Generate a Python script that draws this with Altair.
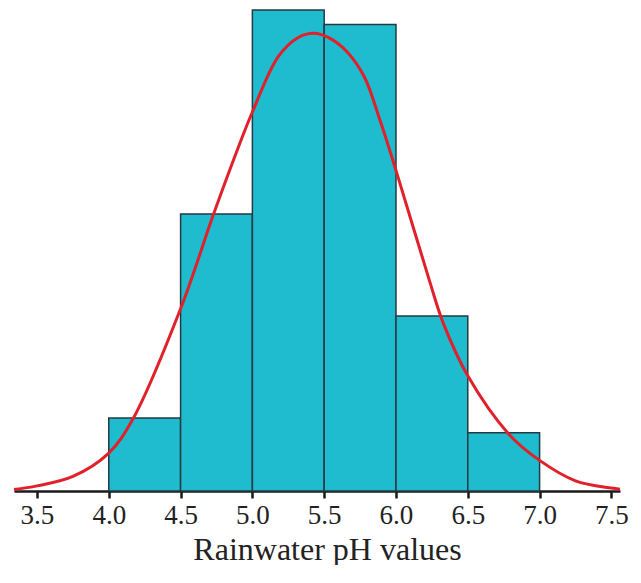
import altair as alt
import pandas as pd

# Histogram bins (pH) and counts
bin_start = [4.0, 4.5, 5.0, 5.5, 6.0, 6.5]
bin_end = [4.5, 5.0, 5.5, 6.0, 6.5, 7.0]
counts = [5, 19, 33, 32, 12, 4]

# Fitted normal curve (in count units)
curve_x = [3.34, 3.5, 3.75, 4.0, 4.166, 4.5, 4.73, 4.903, 5.0, 5.18, 5.317,
           5.434, 5.55, 5.662, 5.78, 5.89, 6.0, 6.234, 6.33, 6.5, 6.786,
           7.0, 7.25, 7.5, 7.56]
curve_y = [0.1, 0.35, 1.0, 2.6, 4.9, 12.5, 19.0, 23.6, 26.0, 29.8, 31.1,
           31.4, 31.0, 30.1, 28.4, 25.4, 22.0, 14.4, 11.5, 7.9, 3.9,
           2.1, 0.7, 0.2, 0.12]

tick_values = [3.5, 4.0, 4.5, 5.0, 5.5, 6.0, 6.5, 7.0, 7.5]

bars_df = pd.DataFrame({"start": bin_start, "end": bin_end, "count": counts})
curve_df = pd.DataFrame({"ph": curve_x, "freq": curve_y})

xscale = alt.Scale(domain=[3.34, 7.56], nice=False, zero=False)
yscale = alt.Scale(domain=[0, 33], nice=False)

bars = alt.Chart(bars_df).mark_rect(
    fill="#1fbcd0", stroke="#233a42", strokeWidth=1.5
).encode(
    x=alt.X("start:Q", scale=xscale,
            axis=alt.Axis(values=tick_values, format=".1f", grid=False,
                          title="Rainwater pH values",
                          domainColor="#1a1a1a", domainWidth=2.5,
                          tickColor="#1a1a1a", tickWidth=2.5, tickSize=7,
                          labelFont="Liberation Serif", labelFontSize=27,
                          labelColor="#222222", labelPadding=4,
                          titleFont="Liberation Serif", titleFontSize=32,
                          titleFontWeight="normal", titleColor="#222222",
                          titlePadding=6, titleX=313, titleAlign="center")),
    x2="end:Q",
    y=alt.Y("count:Q", scale=yscale, axis=None),
    y2=alt.datum(0),
)

curve = alt.Chart(curve_df).mark_line(
    color="#e0202a", strokeWidth=3, interpolate="catmull-rom"
).encode(
    x=alt.X("ph:Q", scale=xscale),
    y=alt.Y("freq:Q", scale=yscale, axis=None),
)

chart = alt.layer(bars, curve).properties(
    width=606, height=481,
    padding={"left": 0, "top": 1, "right": 0, "bottom": 0},
).configure_view(stroke=None)

chart.save("out.html", embed_options={"renderer": "svg", "actions": False})
